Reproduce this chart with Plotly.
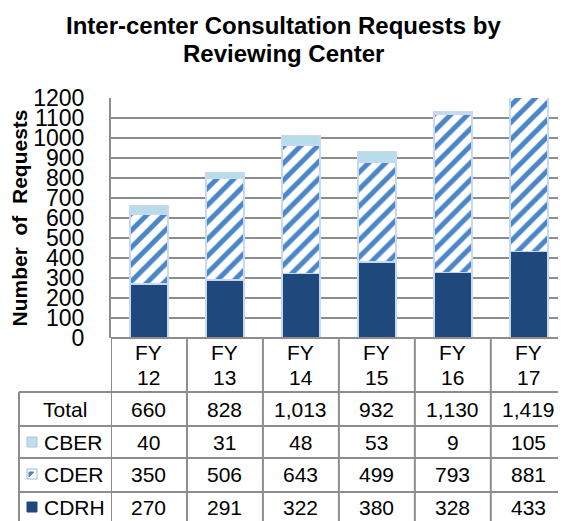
import plotly.graph_objects as go

# data
years = ["12", "13", "14", "15", "16", "17"]
cdrh = [270, 291, 322, 380, 328, 433]
cder = [350, 506, 643, 499, 793, 881]
cber = [40, 31, 48, 53, 9, 105]
total = [660, 828, 1013, 932, 1130, 1419]

# the page body has an 8px margin, so the figure is 8px smaller and
# all positions below are given in page pixels and shifted by OFF
OFF = 8
W, H = 566 - OFF, 521 - OFF
L, T, B = 111 - OFF, 98 - OFF, 183
plot_w = W - L
plot_h = H - T - B

FONT = "Arial, 'Liberation Sans', sans-serif"
GRID = "#8d8d8d"
BORDER = "#c6d9f1"


def px_x(p):
    return (p - OFF - L) / plot_w


def px_y(p):
    return (H - B - (p - OFF)) / plot_h


cats = ["FY " + y for y in years]

fig = go.Figure()
fig.add_bar(x=cats, y=cdrh, name="CDRH",
            marker=dict(color="#1f497d", line=dict(color=BORDER, width=1.5)))
fig.add_bar(x=cats, y=cder, name="CDER",
            marker=dict(color="white",
                        pattern=dict(shape="/", fgcolor="#4a86c8", bgcolor="white",
                                     size=12, solidity=0.42, fillmode="replace"),
                        line=dict(color=BORDER, width=1.5)))
fig.add_bar(x=cats, y=cber, name="CBER",
            marker=dict(color="#b9dcea", line=dict(color=BORDER, width=1.5)))

annotations = []
shapes = []
cell_font = dict(size=21, color="black")

# header row (FY labels)
for c, y in zip(cats, years):
    annotations.append(dict(x=c, xref="x", y=px_y(352), yref="paper", text="FY",
                            showarrow=False, font=cell_font, yanchor="middle"))
    annotations.append(dict(x=c, xref="x", y=px_y(377), yref="paper", text=y,
                            showarrow=False, font=cell_font, yanchor="middle"))

# table rows
rows = [("Total", total, 409), ("CBER", cber, 442), ("CDER", cder, 474), ("CDRH", cdrh, 507)]
for label, vals, yc in rows:
    for c, v in zip(cats, vals):
        annotations.append(dict(x=c, xref="x", y=px_y(yc), yref="paper",
                                text=f"{v:,}", showarrow=False,
                                font=cell_font, yanchor="middle"))
    if label == "Total":
        annotations.append(dict(x=px_x(65), xref="paper", y=px_y(yc), yref="paper",
                                text=label, showarrow=False, xanchor="center",
                                font=cell_font, yanchor="middle"))
    else:
        annotations.append(dict(x=px_x(42), xref="paper", y=px_y(yc), yref="paper",
                                text=label, showarrow=False, xanchor="left",
                                font=cell_font, yanchor="middle"))

# legend swatches in the row labels
sw = {"CBER": ("#c3dde8", "#a9c8d8"), "CDER": ("white", "#9bb7dc"), "CDRH": ("#1f497d", "#1f497d")}
for label, vals, yc in rows[1:]:
    fill, line = sw[label]
    shapes.append(dict(type="rect", xref="paper", yref="paper",
                       x0=px_x(27), x1=px_x(37), y0=px_y(yc + 5), y1=px_y(yc - 5),
                       fillcolor=fill, line=dict(color=line, width=1)))
    if label == "CDER":
        shapes.append(dict(type="path", xref="paper", yref="paper",
                           path=f"M {px_x(29)},{px_y(yc + 3)} L {px_x(29)},{px_y(yc - 2)} "
                                f"L {px_x(34)},{px_y(yc - 2)} Z",
                           fillcolor="#4a86c8", line=dict(color="#4a86c8", width=1)))

# table grid lines
for yl in [392, 426, 458, 492]:
    shapes.append(dict(type="line", xref="paper", yref="paper",
                       x0=px_x(19), x1=1.0, y0=px_y(yl), y1=px_y(yl),
                       line=dict(color=GRID, width=2)))
shapes.append(dict(type="line", xref="paper", yref="paper",
                   x0=px_x(19), x1=px_x(19), y0=px_y(392), y1=px_y(530),
                   line=dict(color=GRID, width=2)))
for i in range(len(cats)):
    shapes.append(dict(type="line", xref="x", yref="paper",
                       x0=i - 0.5, x1=i - 0.5, y0=0, y1=px_y(530),
                       line=dict(color=GRID, width=2)))
shapes.append(dict(type="line", xref="paper", yref="paper",
                   x0=0, x1=1, y0=0, y1=0, line=dict(color=GRID, width=2)))

# titles
title_lines = [("Inter-center Consultation Requests by", 25), ("Reviewing Center", 53)]
for txt, yc in title_lines:
    annotations.append(dict(x=px_x(283), xref="paper", y=px_y(yc), yref="paper",
                            text=f"<b>{txt}</b>", showarrow=False,
                            xanchor="center", yanchor="middle",
                            font=dict(size=24, color="black")))
annotations.append(dict(x=px_x(18.5), xref="paper", y=0.5, yref="paper",
                        text="<b>Number\u00a0\u00a0of\u00a0\u00a0Requests</b>", textangle=-90,
                        showarrow=False, xanchor="center", yanchor="middle",
                        font=dict(size=21, color="black")))

fig.update_layout(
    width=W, height=H,
    margin=dict(l=L, r=0, t=T, b=B),
    barmode="stack", bargap=0.5,
    showlegend=False,
    plot_bgcolor="white", paper_bgcolor="white",
    font=dict(family=FONT, color="black"),
    annotations=annotations, shapes=shapes,
)
fig.update_xaxes(type="category", range=[-0.5, 5.49], showticklabels=False,
                 showgrid=False, showline=False, ticks="")
fig.update_yaxes(range=[0, 1200], dtick=100, showgrid=True, gridcolor=GRID, gridwidth=1.5,
                 showline=True, linecolor=GRID, linewidth=2, zeroline=False,
                 ticks="", ticklabelstandoff=20, tickfont=dict(size=23, color="black"))

fig.write_html("out.html")
